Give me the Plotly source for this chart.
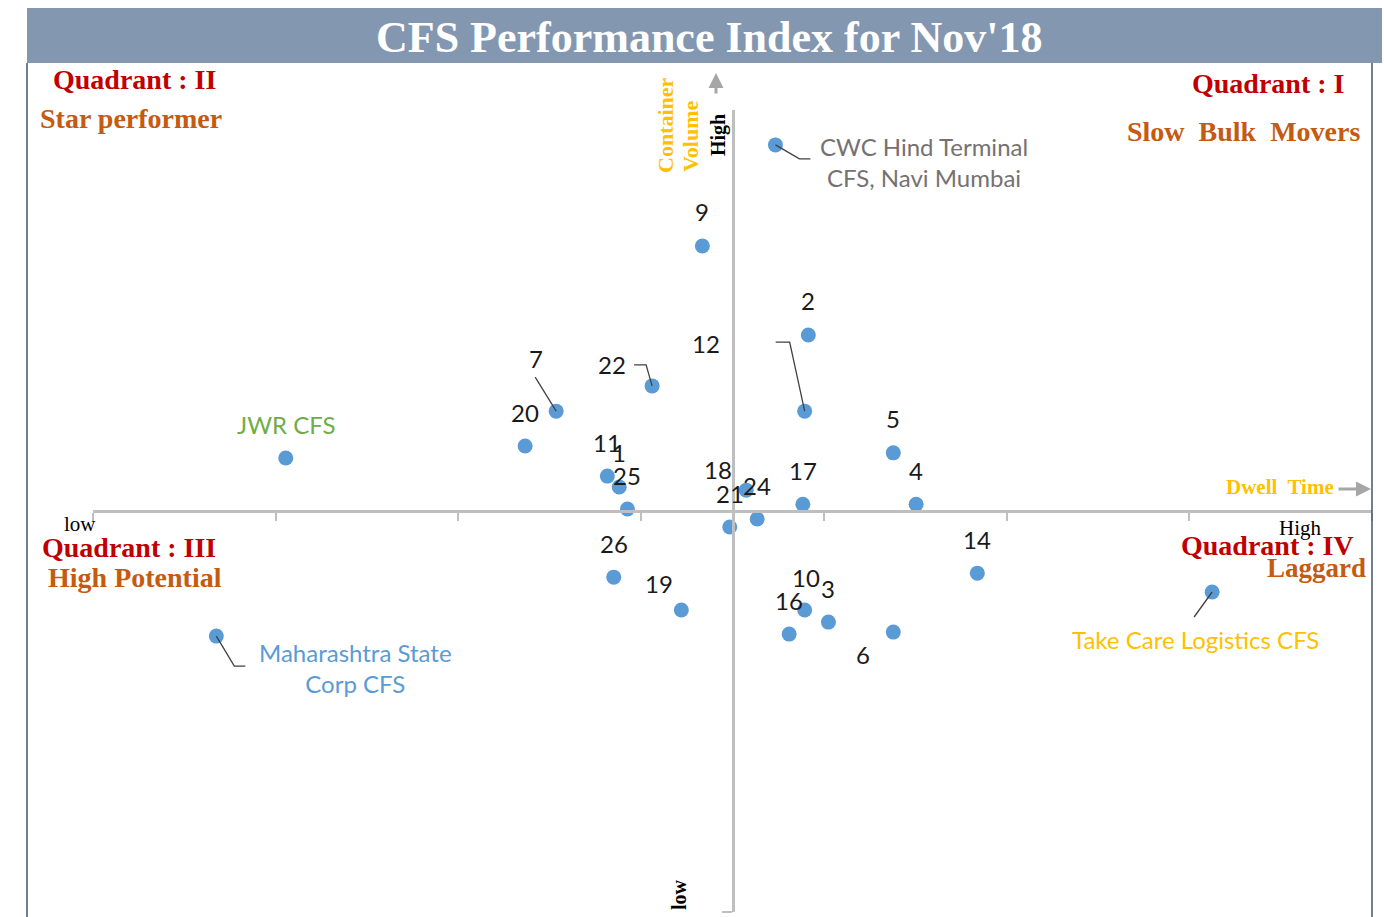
import plotly.graph_objects as go

# ---------------- data ----------------
labels = ["CWC Hind Terminal<br>CFS, Navi Mumbai", "9", "2", "22", "7", "12", "20", "JWR CFS",
          "5", "11", "1", "25", "18", "24", "21", "17", "4", "26", "19", "10", "3", "16",
          "6", "14", "Take Care Logistics CFS", "Maharashtra State<br>Corp CFS"]
dwell_time = [0.47, -0.33, 0.83, -0.88, -1.93, 0.79, -2.27, -4.89,
              1.76, -1.37, -1.24, -1.15, 0.15, 0.27, -0.03, 0.77, 2.01, -1.30, -0.56, 0.79, 1.05, 0.62,
              1.76, 2.68, 5.25, -5.65]
container_volume = [91.3, 66.1, 43.9, 31.2, 24.9, 24.9, 16.2, 13.2,
                    14.5, 8.7, 6.0, 0.5, 5.2, -2.0, -4.0, 1.7, 1.7, -16.5, -24.7, -24.7, -27.7, -30.7,
                    -30.2, -15.5, -20.2, -31.2]
x_ticks = [-7, -5, -3, -1, 1, 3, 5, 7]

# ---------------- layout geometry ----------------
W, H = 1384, 917
ML, MR, MT, MB = 93, 12, 110, 5
PW, PH = W - ML - MR, H - MT - MB


def px(p):
    return (p - ML) / PW


def py(p):
    return (H - MB - p) / PH


SERIF = "Liberation Serif"
SANS = "Lato"

# label styling: offsets (pixels) and colours
default_off = (0, 34)
label_off = {
    "CWC Hind Terminal<br>CFS, Navi Mumbai": (149, -17),
    "12": (-99, 68),
    "22": (-40, 21),
    "7": (-20, 53),
    "Maharashtra State<br>Corp CFS": (139, -32),
    "Take Care Logistics CFS": (-17, -47),
    "18": (-28, 21),
    "19": (-22, 27),
    "6": (-30, -22),
    "10": (1, 33),
}
label_color = {
    "CWC Hind Terminal<br>CFS, Navi Mumbai": "#767171",
    "JWR CFS": "#70AD47",
    "Maharashtra State<br>Corp CFS": "#5B9BD5",
    "Take Care Logistics CFS": "#FFC000",
}
leader_path = {
    "CWC Hind Terminal<br>CFS, Navi Mumbai": "M0,0 L24,-14 L35,-14",
    "Maharashtra State<br>Corp CFS": "M0,0 L18,-30 L29,-30",
    "12": "M0,0 L-15,69 L-29,69",
    "22": "M0,0 L-6,21 L-18,21",
    "7": "M0,0 L-21,34",
    "Take Care Logistics CFS": "M0,0 L-18,-25",
}

fig = go.Figure()
fig.add_trace(go.Scatter(
    x=dwell_time, y=container_volume, mode="markers",
    marker=dict(color="#5B9BD5", size=15, line=dict(width=0)),
    hoverinfo="skip", showlegend=False,
))

shapes = []
annotations = []

# title bar and frame
shapes.append(dict(type="rect", xref="paper", yref="paper",
                   x0=px(27), x1=px(1382), y0=py(63), y1=py(8),
                   fillcolor="#8497B0", line=dict(width=0), layer="below"))
for xb in (27, 1372):
    shapes.append(dict(type="line", xref="paper", yref="paper",
                       x0=px(xb), x1=px(xb), y0=py(917), y1=py(63),
                       line=dict(color="#44546A", width=1.5)))

annotations.append(dict(xref="paper", yref="paper", x=px(709), y=py(37),
                        text="<b>CFS Performance Index for Nov'18</b>", showarrow=False,
                        font=dict(family=SERIF, size=44, color="white"),
                        xanchor="center", yanchor="middle"))

# point labels and leaders
for lab, xv, yv in zip(labels, dwell_time, container_volume):
    dx, dy = label_off.get(lab, default_off)
    annotations.append(dict(xref="x", yref="y", x=xv, y=yv, xshift=dx, yshift=dy,
                            text=lab, showarrow=False,
                            font=dict(family=SANS, size=24, color=label_color.get(lab, "#1A1A1A")),
                            xanchor="center", yanchor="middle", align="center"))
    if lab in leader_path:
        shapes.append(dict(type="path", xref="x", yref="y",
                           xsizemode="pixel", ysizemode="pixel",
                           xanchor=xv, yanchor=yv, path=leader_path[lab],
                           line=dict(color="#404040", width=1.3)))

# quadrant texts
RED, BROWN = "#C00000", "#C55A11"
quad = [
    ("Quadrant : II", 134, 79, RED, "center"),
    ("Star performer", 131, 118, BROWN, "center"),
    ("Quadrant : I", 1268, 84, RED, "center"),
    ("Slow  Bulk  Movers", 1243, 132, BROWN, "center"),
    ("Quadrant : III", 129, 547, RED, "center"),
    ("High Potential", 135, 577, BROWN, "center"),
    ("Quadrant : IV", 1267, 545, RED, "center"),
]
for txt, xp, yp, col, anc in quad:
    annotations.append(dict(xref="paper", yref="paper", x=px(xp), y=py(yp), text=f"<b>{txt}</b>",
                            showarrow=False, font=dict(family=SERIF, size=28, color=col),
                            xanchor=anc, yanchor="middle"))
annotations.append(dict(xref="paper", yref="paper", x=px(1368), y=py(568), text="<b>Laggard</b>",
                        showarrow=False, font=dict(family=SERIF, size=27, color=BROWN),
                        xanchor="right", yanchor="middle"))

# axis captions
GOLD = "#FFC000"
annotations += [
    dict(xref="paper", yref="paper", x=px(665), y=py(175), text="<b>Container</b>", textangle=-90,
         showarrow=False, font=dict(family=SERIF, size=22, color=GOLD), xanchor="center", yanchor="bottom"),
    dict(xref="paper", yref="paper", x=px(690), y=py(174), text="<b>Volume</b>", textangle=-90,
         showarrow=False, font=dict(family=SERIF, size=22, color=GOLD), xanchor="center", yanchor="bottom"),
    dict(xref="paper", yref="paper", x=px(718), y=py(135), text="<b>High</b>", textangle=-90,
         showarrow=False, font=dict(family=SERIF, size=20, color="black"), xanchor="center", yanchor="middle"),
    dict(xref="paper", yref="paper", x=px(679), y=py(895), text="<b>low</b>", textangle=-90,
         showarrow=False, font=dict(family=SERIF, size=20, color="black"), xanchor="center", yanchor="middle"),
    dict(xref="paper", yref="paper", x=px(80), y=py(524), text="low",
         showarrow=False, font=dict(family=SERIF, size=21, color="black"), xanchor="center", yanchor="middle"),
    dict(xref="paper", yref="paper", x=px(1300), y=py(528), text="High",
         showarrow=False, font=dict(family=SERIF, size=21, color="black"), xanchor="center", yanchor="middle"),
    dict(xref="paper", yref="paper", x=px(1336), y=py(487), text="<b>Dwell  Time</b>",
         showarrow=False, font=dict(family=SERIF, size=21, color=GOLD), xanchor="right", yanchor="middle"),
    # arrows
    dict(xref="paper", yref="paper", x=px(716), y=py(73), ax=0, ay=22, text="", showarrow=True,
         arrowhead=2, arrowsize=1, arrowwidth=3, arrowcolor="#A6A6A6"),
    dict(xref="paper", yref="paper", x=px(1371), y=py(489), ax=-34, ay=0, text="", showarrow=True,
         arrowhead=2, arrowsize=1, arrowwidth=3, arrowcolor="#A6A6A6"),
]

AX = "#BFBFBF"
fig.update_layout(
    width=W, height=H,
    margin=dict(l=ML, r=MR, t=MT, b=MB, pad=0),
    paper_bgcolor="white", plot_bgcolor="rgba(0,0,0,0)",
    showlegend=False,
    shapes=shapes, annotations=annotations,
    xaxis=dict(range=[-7, 7], showgrid=False, zeroline=False, showline=True,
               linecolor=AX, linewidth=2.5, anchor="free", position=0.5,
               ticks="outside", tickvals=x_ticks, ticklen=8, tickwidth=2, tickcolor=AX,
               showticklabels=False, fixedrange=True),
    yaxis=dict(range=[-100, 100], showgrid=False, zeroline=False, showline=True,
               linecolor=AX, linewidth=2.5, anchor="free", position=0.5,
               ticks="outside", tickvals=[-100], ticklen=10, tickwidth=2, tickcolor=AX,
               showticklabels=False, fixedrange=True),
)

fig.write_html("out.html", config={"displayModeBar": False},
               post_script="document.body.style.margin='0';document.body.style.overflow='hidden';")
